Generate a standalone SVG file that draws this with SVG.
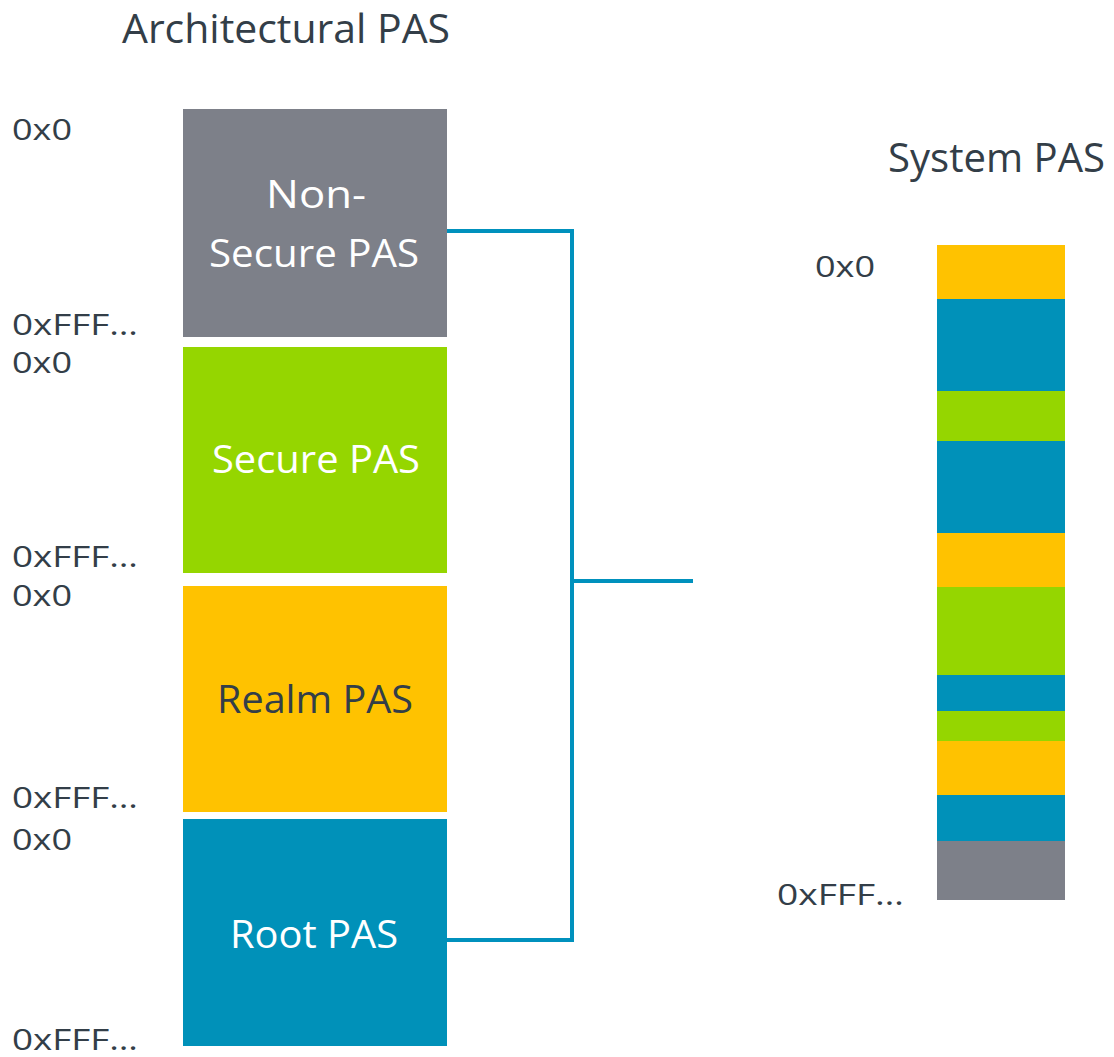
<svg xmlns="http://www.w3.org/2000/svg" width="1114" height="1057" viewBox="0 0 1114 1057">
<style>
.t{font-family:"Open Sans","Liberation Sans",sans-serif;fill:#333e48}
.title{font-size:41px}
.addr{font-size:29px}
.lbl{font-size:39px;text-anchor:middle}
.w{fill:#ffffff}
.conn{fill:none;stroke:#0091bd;stroke-width:4}
</style>
<rect width="1114" height="1057" fill="#ffffff"/>
<text class="t title" x="122" y="43" textLength="328" lengthAdjust="spacingAndGlyphs">Architectural PAS</text>
<text class="t title" x="888" y="172" textLength="217" lengthAdjust="spacingAndGlyphs">System PAS</text>
<g id="ns">
<rect x="183" y="109" width="264" height="228" fill="#7d8089"/>
<text class="t lbl w" x="316" y="208" textLength="100" lengthAdjust="spacingAndGlyphs">Non-</text>
<text class="t lbl w" x="314" y="267" textLength="210" lengthAdjust="spacingAndGlyphs">Secure PAS</text>
<text class="t addr" x="12" y="140" textLength="60" lengthAdjust="spacingAndGlyphs">0x0</text>
<text class="t addr" x="12" y="335" textLength="126" lengthAdjust="spacingAndGlyphs">0xFFF…</text>
</g>
<g id="secure">
<rect x="183" y="347" width="264" height="226" fill="#95d600"/>
<text class="t lbl w" x="316" y="473" textLength="208" lengthAdjust="spacingAndGlyphs">Secure PAS</text>
<text class="t addr" x="12" y="373" textLength="60" lengthAdjust="spacingAndGlyphs">0x0</text>
<text class="t addr" x="12" y="567" textLength="126" lengthAdjust="spacingAndGlyphs">0xFFF…</text>
</g>
<g id="realm">
<rect x="183" y="586" width="264" height="226" fill="#ffc200"/>
<text class="t lbl" x="315" y="713" textLength="196" lengthAdjust="spacingAndGlyphs">Realm PAS</text>
<text class="t addr" x="12" y="606" textLength="60" lengthAdjust="spacingAndGlyphs">0x0</text>
<text class="t addr" x="12" y="808" textLength="126" lengthAdjust="spacingAndGlyphs">0xFFF…</text>
</g>
<g id="root">
<rect x="183" y="819" width="264" height="227" fill="#0091b9"/>
<text class="t lbl w" x="314" y="948" textLength="168" lengthAdjust="spacingAndGlyphs">Root PAS</text>
<text class="t addr" x="12" y="850" textLength="60" lengthAdjust="spacingAndGlyphs">0x0</text>
<text class="t addr" x="12" y="1050" textLength="126" lengthAdjust="spacingAndGlyphs">0xFFF…</text>
</g>
<g id="connectors">
<path class="conn" d="M447 231 H572 V940 H447"/>
<path class="conn" d="M572 581 H693"/>
</g>
<g id="system">
<rect x="937" y="245" width="128" height="54" fill="#ffc200"/>
<rect x="937" y="299" width="128" height="92" fill="#0091b9"/>
<rect x="937" y="391" width="128" height="50" fill="#95d600"/>
<rect x="937" y="441" width="128" height="92" fill="#0091b9"/>
<rect x="937" y="533" width="128" height="54" fill="#ffc200"/>
<rect x="937" y="587" width="128" height="88" fill="#95d600"/>
<rect x="937" y="675" width="128" height="36" fill="#0091b9"/>
<rect x="937" y="711" width="128" height="30" fill="#95d600"/>
<rect x="937" y="741" width="128" height="54" fill="#ffc200"/>
<rect x="937" y="795" width="128" height="46" fill="#0091b9"/>
<rect x="937" y="841" width="128" height="59" fill="#7d8089"/>
<text class="t addr" x="815" y="277" textLength="60" lengthAdjust="spacingAndGlyphs">0x0</text>
<text class="t addr" x="777" y="905" textLength="127" lengthAdjust="spacingAndGlyphs">0xFFF…</text>
</g>
</svg>
